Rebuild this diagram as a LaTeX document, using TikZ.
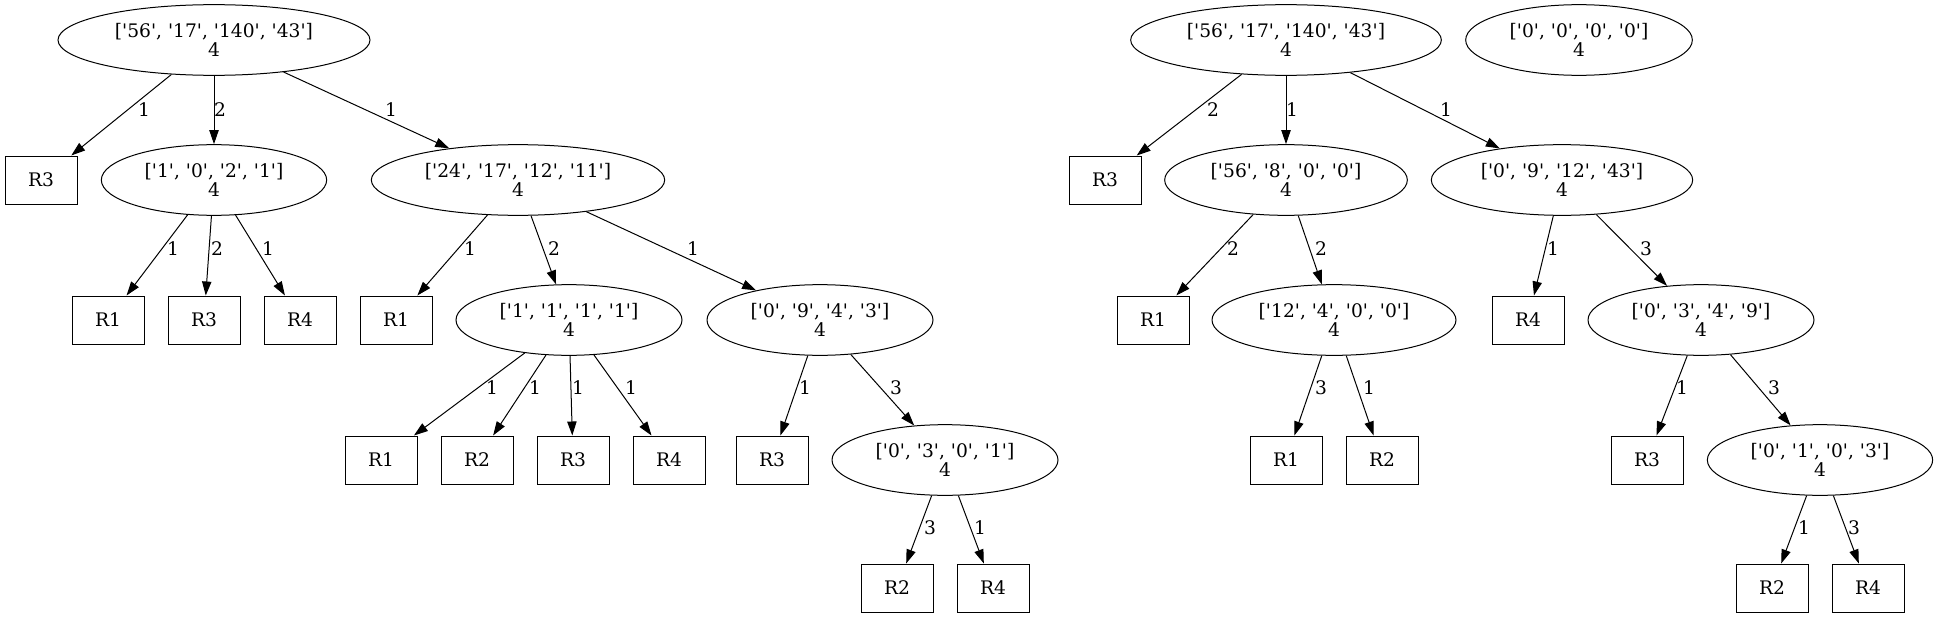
\documentclass[tikz,border=0pt]{standalone}
\usepackage{fontspec}
\setmainfont{DejaVu Serif}[Ligatures=TeXOff]
\usetikzlibrary{shapes.geometric,arrows.meta}
\begin{document}
\begin{tikzpicture}[x=0.75pt,y=-0.75pt,
  font=\fontsize{14pt}{14.3pt}\selectfont,
  line width=0.75pt,
  st/.style={ellipse,draw,inner sep=0pt,minimum height=53pt,align=center},
  rb/.style={rectangle,draw,inner sep=0pt,minimum width=54pt,minimum height=36pt},
  arr/.style={-{Triangle[length=10.5pt,width=7pt]}},
  lbl/.style={inner sep=0pt}]
\useasboundingbox (0,0) rectangle (1938,617);
% left tree
\node[st,minimum width=234pt] (L0) at (214,40) {['56', '17', '140', '43']\\4};
\node[rb] (L1) at (41,180) {R3};
\node[st,minimum width=169pt] (L2) at (214,180) {['1', '0', '2', '1']\\4};
\node[st,minimum width=220pt] (L3) at (518,180) {['24', '17', '12', '11']\\4};
\node[rb] (L4) at (108,320) {R1};
\node[rb] (L5) at (204,320) {R3};
\node[rb] (L6) at (300,320) {R4};
\node[rb] (L7) at (396,320) {R1};
\node[st,minimum width=169.5pt] (L8) at (569,320) {['1', '1', '1', '1']\\4};
\node[st,minimum width=169.5pt] (L9) at (820,320) {['0', '9', '4', '3']\\4};
\node[rb] (L10) at (381,460) {R1};
\node[rb] (L11) at (477,460) {R2};
\node[rb] (L12) at (573,460) {R3};
\node[rb] (L13) at (669,460) {R4};
\node[rb] (L14) at (772,460) {R3};
\node[st,minimum width=169.5pt] (L15) at (945,460) {['0', '3', '0', '1']\\4};
\node[rb] (L16) at (897,588) {R2};
\node[rb] (L17) at (993,588) {R4};
% right tree
\node[st,minimum width=233pt] (R0) at (1286,40) {['56', '17', '140', '43']\\4};
\node[st,minimum width=170pt] (Z) at (1579,40) {['0', '0', '0', '0']\\4};
\node[rb] (R1) at (1105,180) {R3};
\node[st,minimum width=182pt] (R2) at (1286,180) {['56', '8', '0', '0']\\4};
\node[st,minimum width=196pt] (R3) at (1562,180) {['0', '9', '12', '43']\\4};
\node[rb] (R4) at (1153,320) {R1};
\node[st,minimum width=183pt] (R5) at (1334,320) {['12', '4', '0', '0']\\4};
\node[rb] (R6) at (1528,320) {R4};
\node[st,minimum width=169.5pt] (R7) at (1701,320) {['0', '3', '4', '9']\\4};
\node[rb] (R8) at (1286,460) {R1};
\node[rb] (R9) at (1382,460) {R2};
\node[rb] (R10) at (1647,460) {R3};
\node[st,minimum width=169pt] (R11) at (1820,460) {['0', '1', '0', '3']\\4};
\node[rb] (R12) at (1772,588) {R2};
\node[rb] (R13) at (1868,588) {R4};
% left edges
\draw[arr] (L0) -- (L1) node[lbl,at={(144,110)}] {1};
\draw[arr] (L0) -- (L2) node[lbl,at={(220,110)}] {2};
\draw[arr] (L0) -- (L3) node[lbl,at={(391,110)}] {1};
\draw[arr] (L2) -- (L4) node[lbl,at={(173,249)}] {1};
\draw[arr] (L2) -- (L5) node[lbl,at={(217,249)}] {2};
\draw[arr] (L2) -- (L6) node[lbl,at={(268,249)}] {1};
\draw[arr] (L3) -- (L7) node[lbl,at={(470,249)}] {1};
\draw[arr] (L3) -- (L8) node[lbl,at={(554,249)}] {2};
\draw[arr] (L3) -- (L9) node[lbl,at={(693,249)}] {1};
\draw[arr] (L8) -- (L10) node[lbl,at={(492,388)}] {1};
\draw[arr] (L8) -- (L11) node[lbl,at={(535,388)}] {1};
\draw[arr] (L8) -- (L12) node[lbl,at={(578,388)}] {1};
\draw[arr] (L8) -- (L13) node[lbl,at={(631,388)}] {1};
\draw[arr] (L9) -- (L14) node[lbl,at={(805,388)}] {1};
\draw[arr] (L9) -- (L15) node[lbl,at={(896,388)}] {3};
\draw[arr] (L15) -- (L16) node[lbl,at={(930,528)}] {3};
\draw[arr] (L15) -- (L17) node[lbl,at={(980,528)}] {1};
% right edges
\draw[arr] (R0) -- (R1) node[lbl,at={(1213,110)}] {2};
\draw[arr] (R0) -- (R2) node[lbl,at={(1292,110)}] {1};
\draw[arr] (R0) -- (R3) node[lbl,at={(1446,110)}] {1};
\draw[arr] (R2) -- (R4) node[lbl,at={(1233,249)}] {2};
\draw[arr] (R2) -- (R5) node[lbl,at={(1321,249)}] {2};
\draw[arr] (R3) -- (R6) node[lbl,at={(1553,249)}] {1};
\draw[arr] (R3) -- (R7) node[lbl,at={(1646,249)}] {3};
\draw[arr] (R5) -- (R8) node[lbl,at={(1321,388)}] {3};
\draw[arr] (R5) -- (R9) node[lbl,at={(1369,388)}] {1};
\draw[arr] (R7) -- (R10) node[lbl,at={(1682,388)}] {1};
\draw[arr] (R7) -- (R11) node[lbl,at={(1774,388)}] {3};
\draw[arr] (R11) -- (R12) node[lbl,at={(1804,528)}] {1};
\draw[arr] (R11) -- (R13) node[lbl,at={(1854,528)}] {3};
\end{tikzpicture}
\end{document}
